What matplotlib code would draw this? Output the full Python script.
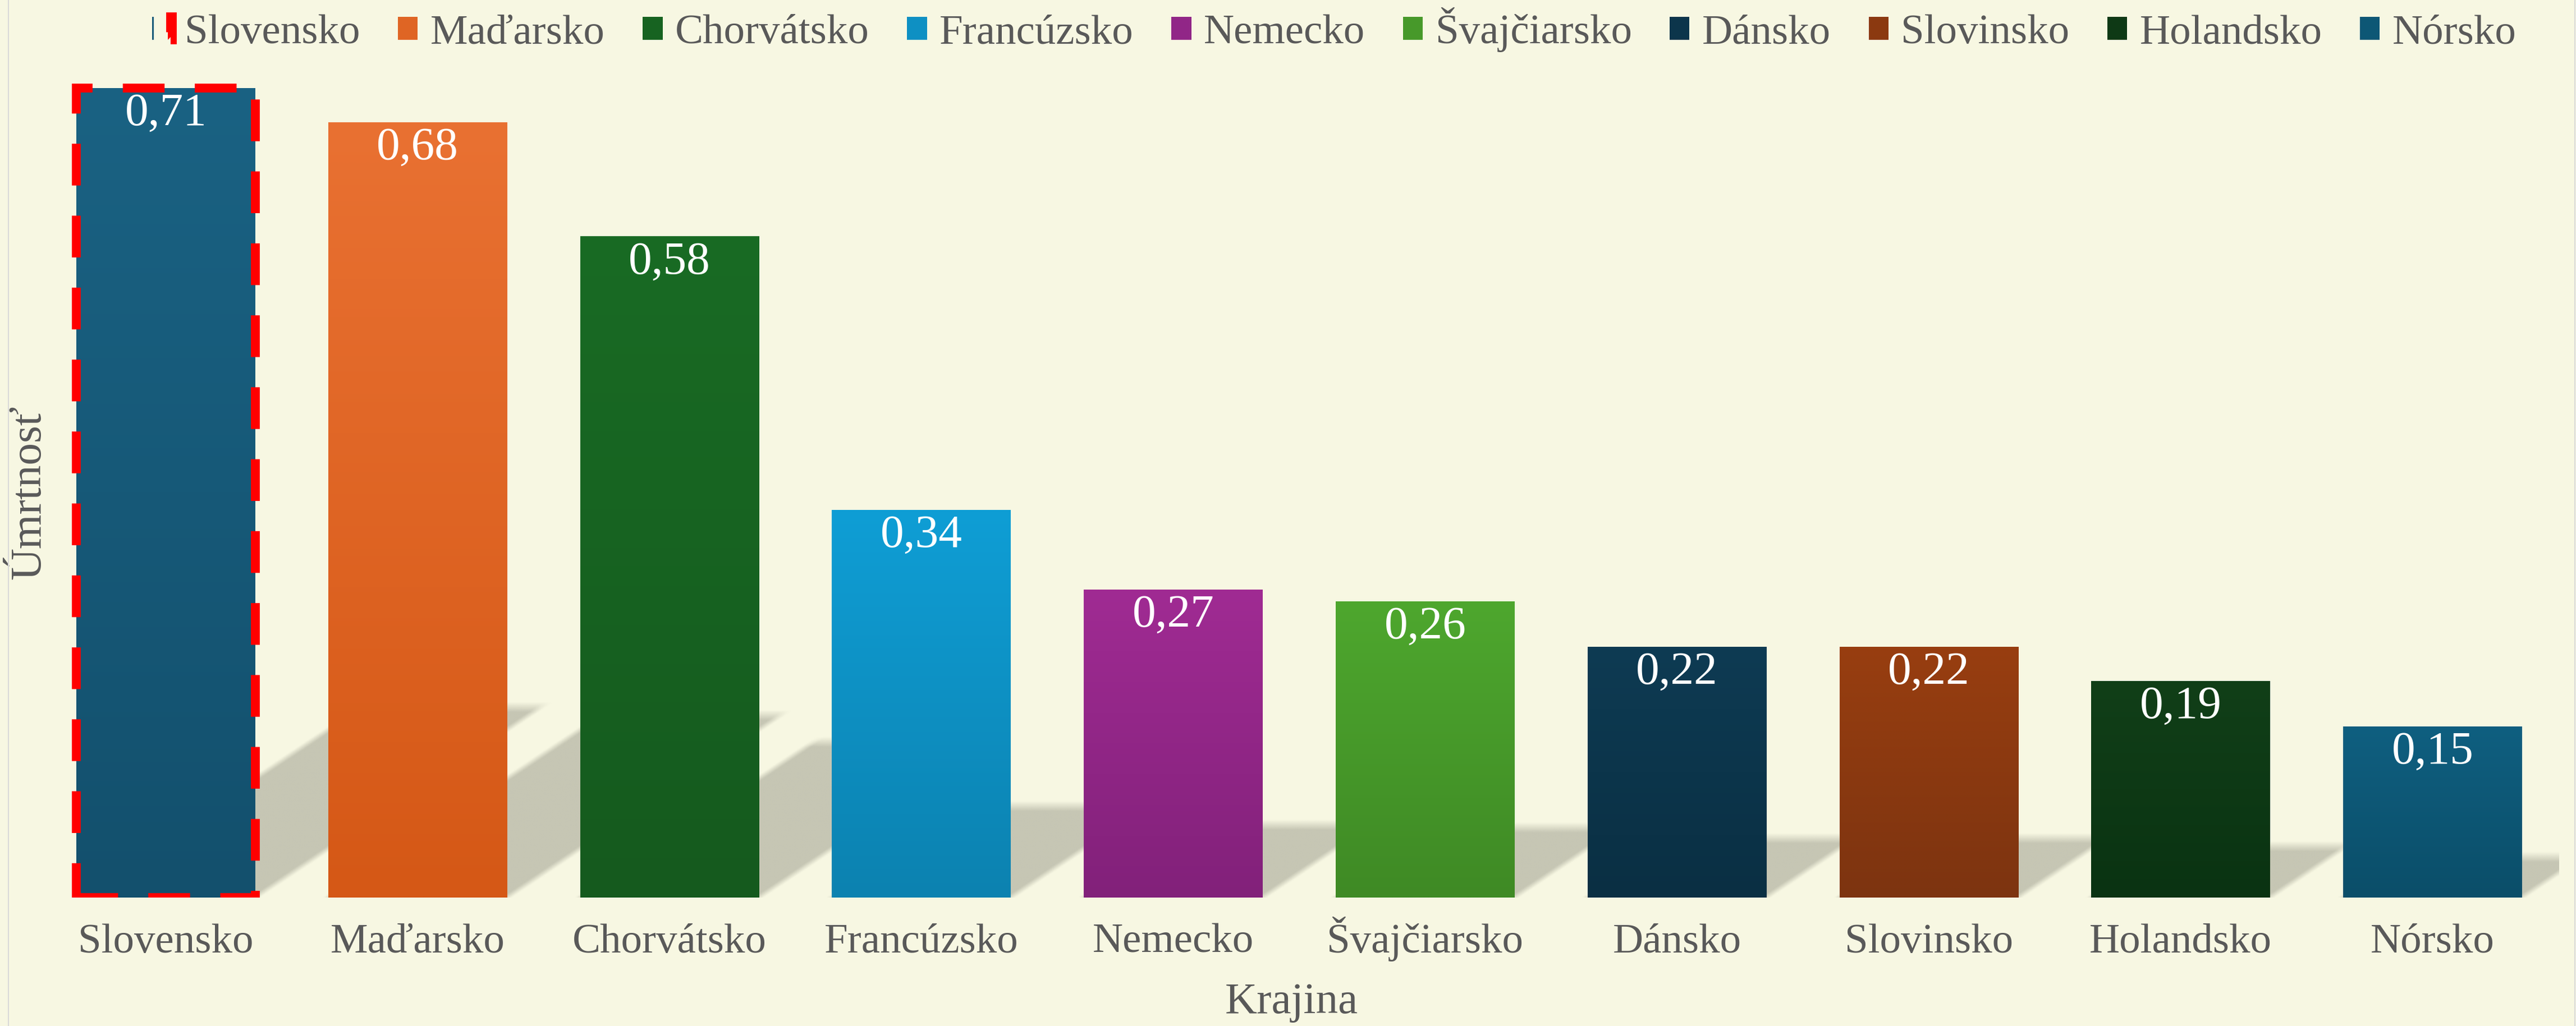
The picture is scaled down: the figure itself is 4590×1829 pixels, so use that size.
import numpy as np
import matplotlib
matplotlib.use('Agg')
import matplotlib.pyplot as plt
from matplotlib.colors import to_rgb
from matplotlib.legend_handler import HandlerTuple
from matplotlib.lines import Line2D

countries = ['Slovensko', 'Maďarsko', 'Chorvátsko', 'Francúzsko', 'Nemecko',
             'Švajčiarsko', 'Dánsko', 'Slovinsko', 'Holandsko', 'Nórsko']
mortality = [0.71, 0.68, 0.58, 0.34, 0.27, 0.26, 0.22, 0.22, 0.19, 0.15]

# gradient fill per bar: colour at top, colour at bottom
top_colors = ['#1a6283', '#e97132', '#196b24', '#0f9ed5', '#a02b93',
              '#4ea72e', '#0e3b53', '#983e10', '#113f18', '#0f5f80']
bottom_colors = ['#13506d', '#d55816', '#155a1e', '#0c82b0', '#82217a',
                 '#3f8a25', '#0a2f43', '#7d3410', '#0a3312', '#0b4e69']

bg = '#f7f7e2'
text_col = '#595959'
shadow_col = '#c6c6b4'

plt.rcParams['font.family'] = ['Liberation Serif', 'DejaVu Serif']

W, H = 4590, 1829
fig = plt.figure(figsize=(W / 300, H / 300), dpi=300, facecolor=bg)
ax_box = [0.01547, 0.12521, 0.97778, 0.79989]
ax = fig.add_axes(ax_box)
ax.set_facecolor(bg)
ymax = 0.72

x = np.arange(len(countries))
width = 0.71
mid_colors = [tuple((np.array(to_rgb(a)) + np.array(to_rgb(b))) / 2)
              for a, b in zip(top_colors, bottom_colors)]
bars = ax.bar(x, mortality, width, color=mid_colors, zorder=2)

# gradient inside each bar
t = np.linspace(0, 1, 256)[:, None, None]
for b, c1, c2 in zip(bars, top_colors, bottom_colors):
    img = np.array(to_rgb(c1)) * (1 - t) + np.array(to_rgb(c2)) * t
    x0, w, h = b.get_x(), b.get_width(), b.get_height()
    im = ax.imshow(img, extent=[x0, x0 + w, 0, h], origin='upper',
                   aspect='auto', zorder=3, interpolation='bilinear')
    im.set_clip_path(b)

# perspective shadows cast to the right of each bar
px_x = ax_box[2] * W / len(countries)
px_y = ax_box[3] * H / ymax
shear = 1.5 * px_y / px_x
soft = 9.0
gx = np.linspace(-0.5, len(countries) - 0.5, 2200)
gy = np.linspace(0, ymax, 720)
X, Y = np.meshgrid(gx, gy)
alpha = np.zeros_like(X)
for b in bars:
    xl = b.get_x()
    xr = xl + b.get_width()
    sh = 0.235 * b.get_height()
    dt = (sh - Y) * px_y
    dl = (X - xl - shear * Y) * px_x
    dr = (xr + shear * Y - X) * px_x
    a = (np.clip(0.5 + dt / (2 * soft), 0, 1) *
         np.clip(0.5 + dl / (2 * soft), 0, 1) *
         np.clip(0.5 + dr / (2 * soft), 0, 1))
    alpha = np.maximum(alpha, a)
rgba = np.zeros(X.shape + (4,))
rgba[..., :3] = to_rgb(shadow_col)
rgba[..., 3] = alpha
ax.imshow(rgba, extent=[-0.5, len(countries) - 0.5, 0, ymax], origin='lower',
          aspect='auto', zorder=1, interpolation='bilinear')

# red dashed highlight on Slovensko
outline = ax.bar(x[:1], mortality[:1], width, fill=False, edgecolor='#ff0000',
                 linewidth=3.8, linestyle=(0, (4.7, 3.4)), zorder=5)

for xi, v in zip(x, mortality):
    ax.annotate(f'{v:.2f}'.replace('.', ','), (xi, v), xytext=(0, -2),
                textcoords='offset points', ha='center', va='top',
                color='white', fontsize=20, zorder=6)

ax.set_xlim(-0.5, len(countries) - 0.5)
ax.set_ylim(0, ymax)
ax.set_xticks(x, countries)
ax.set_yticks([])
ax.tick_params(axis='x', length=0, pad=23.5, labelsize=18, labelcolor=text_col)
for lab in ax.get_xticklabels():
    lab.set_va('baseline')
for s in ax.spines.values():
    s.set_visible(False)

ax.set_xlabel('Krajina', fontsize=19, color=text_col)
ax.xaxis.label.set_va('center')
ax.xaxis.set_label_coords(0.497, -0.128)
ax.set_ylabel('Úmrtnosť', fontsize=19, color=text_col)
ax.yaxis.label.set_va('center')
ax.yaxis.set_label_coords(-0.0042, 0.4935)

handles = [(bars[0], outline[0])] + list(bars[1:])
fig.legend(handles, countries, loc='center', bbox_to_anchor=(0.518, 0.971),
           ncol=10, frameon=False, fontsize=18, labelcolor=text_col,
           handlelength=0.47, handleheight=0.47, handletextpad=0.3,
           columnspacing=0.9, handler_map={tuple: HandlerTuple(ndivide=None)})

# thin chart border at the sides
for xf in (15 / W, 4588 / W):
    fig.add_artist(Line2D([xf, xf], [0, 1], color='#d9d9d9', lw=0.5,
                          transform=fig.transFigure))

fig.savefig('out.png', dpi=300, facecolor=bg)
